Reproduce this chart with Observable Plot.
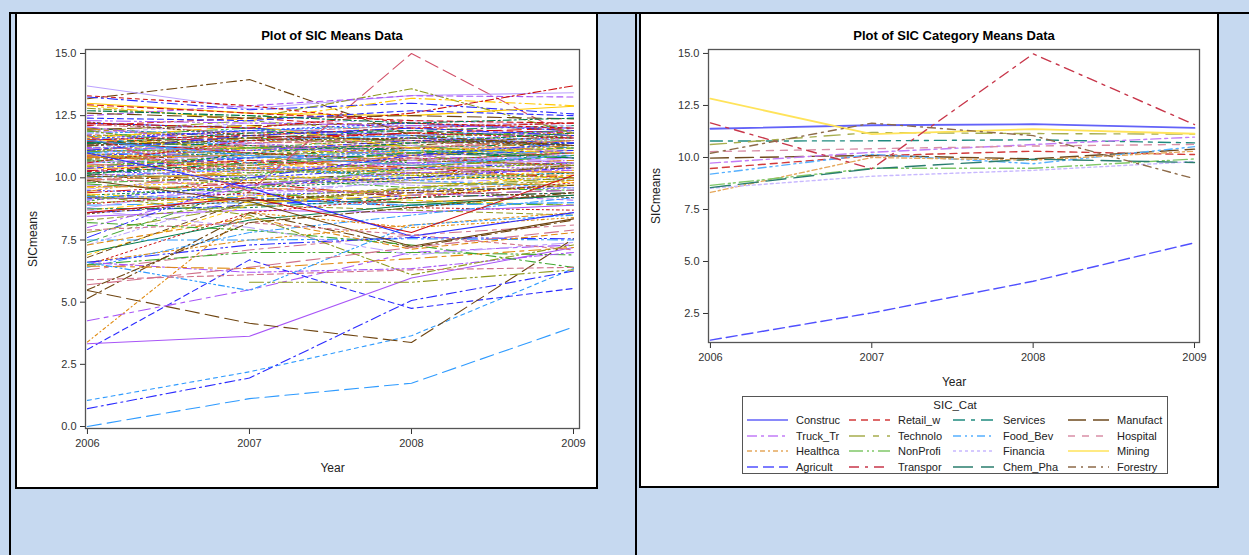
<!DOCTYPE html>
<html><head><meta charset="utf-8">
<script src="https://cdn.jsdelivr.net/npm/d3@7"></script>
<script src="https://cdn.jsdelivr.net/npm/@observablehq/plot@0.6"></script>
<style>
body{margin:0;width:1249px;height:555px;background:#c6d9f0;position:relative;overflow:hidden;font-family:"Liberation Sans",Arial,sans-serif;}
.abs{position:absolute;}
.panel{background:#fff;border:2px solid #000;box-sizing:border-box;}
.title{font-weight:bold;font-size:13px;text-align:center;color:#000;line-height:15px;width:400px;}
#legend{background:#fff;border:1px solid #555;box-sizing:border-box;font-size:11px;color:#222;}
#legend span{position:absolute;white-space:nowrap;line-height:14px;}
</style></head><body>
<div class="abs" style="left:9px;top:12px;width:1240px;height:2px;background:#000"></div>
<div class="abs" style="left:9px;top:12px;width:2px;height:543px;background:#000"></div>
<div class="abs" style="left:635px;top:12px;width:2px;height:543px;background:#000"></div>
<div class="abs panel" style="left:15px;top:12px;width:583px;height:477px"></div>
<div class="abs panel" style="left:639px;top:12px;width:580px;height:476px"></div>
<div class="abs title" style="left:132px;top:28px">Plot of SIC Means Data</div>
<div class="abs title" style="left:754px;top:28px">Plot of SIC Category Means Data</div>
<div class="abs" id="leftChart" style="left:16px;top:40px"></div>
<div class="abs" id="rightChart" style="left:640px;top:40px"></div>
<div class="abs" id="legend" style="left:742px;top:396px;width:426px;height:78px"></div>
<script>
const years = [2006, 2007, 2008, 2009];
const leftYTicks = [0, 2.5, 5, 7.5, 10, 12.5, 15];
const rightYTicks = [2.5, 5, 7.5, 10, 12.5, 15];

// Category means (right chart)
const categories = ["Construc","Retail_w","Services","Manufact","Truck_Tr","Technolo","Food_Bev","Hospital","Healthca","NonProfi","Financia","Mining","Agricult","Transpor","Chem_Pha","Forestry"];
const catValues = [
  [11.38, 11.55, 11.6, 11.42],
  [9.47, 10.08, 10.3, 10.14],
  [10.79, 10.8, 10.85, 10.7],
  [9.97, 10.1, 9.93, 10.4],
  [9.73, 10.25, 10.62, 10.98],
  [10.62, 11.2, 11.15, 11.12],
  [9.2, 10.15, 9.7, 10.52],
  [10.28, 10.42, 10.55, 10.63],
  [8.32, 10.0, 9.87, 10.3],
  [8.66, 9.48, 9.48, 9.93],
  [8.52, 9.1, 9.38, 9.8],
  [12.83, 11.12, 11.36, 11.14],
  [1.22, 2.53, 4.05, 5.9],
  [11.66, 9.46, 14.98, 11.58],
  [8.55, 9.46, 9.92, 9.76],
  [10.2, 11.65, 11.05, 8.98]
];
const catColors = ["#6262f8","#d23a3a","#1f8a7f","#6e4a1e","#c27cf7","#a7ad4e","#55b0ff","#d98fa7","#e5a85c","#80c868","#c8b8ff","#ffe35a","#5050ff","#c8364a","#2a7e6e","#8d6a48"];
const catDashes = [null,"7,5","12,6,4,6","18,7","10,4,3,4","16,8,6,8","8,4,2,4,2,4","7,7","5,3,2,3","14,4,2,3,2,4","3,3",null,"11,5","10,6,3,6","20,8","8,5,2,5"];

// Individual SIC means (left chart)
const sicBand = [
  [12.2, 12.0, 11.7, 11.9],[12.1, 12.4, 12.0, 11.8],[12.0, 11.6, 11.9, 12.1],[11.95, 12.1, 12.2, 11.9],
  [11.9, 11.7, 11.5, 11.6],[11.85, 12.3, 11.8, 11.7],[11.8, 11.9, 12.1, 12.0],[11.75, 11.4, 11.6, 11.3],
  [11.7, 11.8, 11.7, 11.8],[11.65, 12.0, 11.4, 11.5],[11.6, 11.5, 11.9, 11.7],[11.55, 11.2, 11.3, 11.1],
  [11.5, 11.9, 11.6, 11.4],[11.45, 11.6, 11.8, 12.0],[11.4, 11.1, 11.2, 11.4],[11.35, 11.7, 11.5, 11.2],
  [11.3, 11.4, 11.0, 10.9],[11.25, 10.9, 11.4, 11.6],[11.2, 11.5, 11.7, 11.5],[11.15, 11.3, 10.9, 11.0],
  [11.1, 10.8, 11.1, 11.3],[11.05, 11.2, 11.3, 10.8],[11.0, 11.4, 10.8, 10.6],[10.95, 10.7, 10.9, 11.2],
  [10.9, 11.1, 11.5, 11.4],[10.85, 10.6, 10.7, 10.5],[10.8, 11.0, 10.6, 10.9],[10.75, 10.9, 11.2, 11.0],
  [10.7, 10.4, 10.5, 10.7],[10.65, 11.2, 10.9, 10.4],[10.6, 10.8, 11.0, 11.3],[10.55, 10.3, 10.4, 10.2],
  [10.5, 10.7, 10.3, 10.6],[10.45, 10.9, 11.1, 10.8],[10.4, 10.2, 10.6, 10.9],[10.35, 10.6, 10.2, 10.0],
  [10.3, 10.0, 10.4, 10.6],[10.25, 10.5, 10.8, 10.5],[10.2, 10.4, 10.1, 9.9],[10.15, 9.9, 10.2, 10.4],
  [10.1, 10.3, 10.6, 10.3],[10.05, 10.1, 9.8, 9.7],[10.0, 10.4, 10.0, 10.2],[9.95, 9.7, 9.9, 10.1],
  [9.9, 10.2, 10.5, 10.7],[9.8, 10.0, 9.6, 9.5],[9.7, 9.5, 9.8, 10.0],[9.6, 9.9, 10.1, 9.8],
  [9.5, 9.3, 9.5, 9.6],[9.4, 9.8, 9.2, 9.4],[9.3, 9.6, 9.9, 10.2],[9.2, 9.1, 9.0, 9.3],
  [9.1, 9.5, 9.4, 9.1],[9.0, 9.2, 9.6, 9.9],[8.9, 9.0, 8.9, 9.0],
  [12.15, 11.8, 12.1, 12.2],[11.98, 11.5, 11.2, 11.5],[11.88, 11.2, 11.6, 11.9],[11.78, 12.2, 12.3, 12.1],
  [11.68, 11.1, 11.0, 11.2],[11.58, 11.9, 12.2, 11.9],[11.48, 11.0, 10.7, 11.0],[11.38, 11.8, 11.9, 11.6],
  [11.28, 11.6, 11.3, 11.7],[11.18, 10.7, 10.6, 10.8],[11.08, 11.6, 11.4, 11.8],[10.98, 11.5, 11.7, 11.2],
  [10.88, 10.5, 10.8, 10.4],[10.78, 11.3, 11.0, 11.5],[10.68, 10.2, 10.3, 10.6],[10.58, 11.0, 11.3, 11.1],
  [10.48, 10.1, 9.9, 10.3],[10.38, 10.8, 10.9, 11.1],[10.28, 10.7, 10.4, 10.0],[10.18, 10.6, 11.0, 10.8],
  [10.08, 9.8, 10.0, 10.5],[12.05, 11.3, 10.9, 10.6],[11.92, 10.9, 10.2, 10.0],[11.72, 10.6, 9.9, 9.6],
  [9.85, 10.6, 11.2, 11.6],[9.45, 10.4, 10.9, 11.3],[9.05, 10.1, 10.7, 11.0],[8.8, 9.7, 10.3, 10.8],
  [8.7, 9.3, 9.1, 8.9],[8.6, 8.9, 9.3, 9.5],[11.52, 11.7, 12.0, 12.2],[11.42, 11.3, 11.1, 10.8],
  [11.32, 11.5, 11.6, 11.3],[11.22, 11.1, 11.4, 11.9],[11.12, 11.0, 10.7, 10.5],[11.02, 10.8, 11.1, 11.0],
  [10.92, 11.3, 11.2, 11.5],[10.82, 10.9, 10.5, 10.2],[10.72, 10.5, 11.0, 11.2],[10.62, 10.9, 10.7, 10.9],
  [11.6, 12.1, 11.2, 11.0],[11.1, 11.7, 12.0, 11.7],[10.6, 11.5, 11.8, 11.6],[10.1, 11.0, 11.4, 11.8],
  [12.25, 11.7, 11.5, 11.3],[12.3, 12.2, 12.1, 12.0],[11.0, 10.3, 10.1, 10.5],[11.5, 10.9, 10.5, 10.9],
  [10.4, 11.4, 11.5, 11.0],[10.9, 10.4, 10.2, 10.1],
  [9.75, 9.4, 9.0, 8.9],[9.55, 10.1, 9.7, 9.6],[9.35, 9.0, 9.3, 9.7],[9.15, 9.7, 10.0, 10.4],
  [8.95, 9.4, 8.8, 8.7],[8.75, 8.8, 9.2, 9.4],[8.55, 9.1, 9.5, 9.2],[8.45, 8.7, 8.6, 8.9],
  [8.3, 8.9, 8.7, 8.5],[9.25, 9.2, 8.9, 9.0],[10.0, 9.6, 9.3, 9.5],[9.65, 9.6, 9.4, 9.9],
  [7.4, 9.6, 10.4, 10.9],[7.3, 9.3, 9.9, 10.6],[6.9, 8.9, 9.6, 10.1],[7.6, 10.0, 10.9, 11.4],
  [6.5, 8.6, 9.2, 9.8],[7.0, 8.3, 8.9, 9.3],[6.8, 9.1, 9.4, 9.7],[8.0, 9.7, 10.2, 10.3],
  [7.8, 8.9, 9.6, 10.0],[6.4, 7.8, 8.5, 9.2],[6.3, 7.1, 7.7, 8.1],[6.6, 7.5, 8.1, 8.6]
];
const sicLow = [
  [0.0, 1.12, 1.74, 4.0],[1.05, 2.2, 3.65, 6.35],[0.72, 1.95, 5.07, 6.25],[3.1, 6.7, 4.75, 5.55],
  [3.33, 3.63, 5.97, 7.2],[5.47, 4.15, 3.38, 7.55],[4.25, 5.5, 7.0, 7.3],[3.4, 8.6, 8.0, 8.4],
  [5.15, 8.6, 7.2, 8.3],[7.5, 7.5, 7.55, 7.5],[6.6, 7.3, 7.6, 7.55],[7.3, 8.4, 7.13, 7.8],
  [6.5, 7.0, 7.0, 6.9],[6.6, 6.2, 6.35, 7.0],[6.45, 6.35, 6.75, 7.2],[8.2, 7.9, 7.3, 6.4],
  [9.3, 8.5, 6.1, 7.3],[8.7, 8.0, 6.9, 7.4],[6.6, 5.47, 8.1, 8.5],[null, 5.8, 5.8, 6.3],
  [8.6, 9.2, 7.8, 10.1],[9.9, 9.05, 7.25, 8.35],[11.0, 9.6, 7.65, 8.6],[7.9, 8.2, 7.7, 7.1],
  [5.9, 6.1, 6.3, 6.4],[5.7, 6.4, 7.2, 7.9],[5.5, 8.2, 8.8, 9.4]
];
const sicHigh = [
  [11.7, 9.45, 15.0, 11.6],[13.18, 13.95, 11.7, 11.3],[13.69, 12.78, 13.31, 13.42],[13.25, 12.74, 13.0, 12.57],
  [12.8, 12.4, 13.58, 11.8],[12.9, 12.3, 13.2, 12.9],[13.0, 12.6, 12.5, 12.88],[12.5, 12.9, 13.3, 13.25],
  [12.2, 12.0, 12.6, 13.7],[12.94, 12.6, 12.3, 12.2],[12.6, 12.4, 12.5, 12.37],[12.4, 12.3, 12.7, 12.5],
  [13.3, 12.9, 12.2, 12.0],[12.7, 12.5, 12.2, 12.4]
];
// style indices for the outlying SIC lines
const lowColorIdx = [6,6,0,0,4,3,4,8,3,6,0,8,9,4,8,9,5,10,6,5,1,3,0,7,7,7,3];
const lowDashIdx  = [3,7,2,1,0,3,5,8,2,2,9,1,9,4,5,2,4,5,6,9,0,0,0,7,1,3,4];
const highColorIdx = [12,3,10,0,5,11,11,4,1,1,3,0,1,2];
const highDashIdx  = [3,2,0,2,4,2,0,1,4,1,3,1,7,4];
const leftColors = ["#2b2bff","#cc1010","#007a4a","#6e4410","#a855f7","#8f9a1e","#2f9bff","#d0708a","#e08a10","#44a832","#bca2ff","#ffc800","#d25068"];
const leftDashes = [null,"6,4","10,4,2,4","14,6","8,3,2,3","12,5,4,5","6,3,2,3,2,3","4,4","3,3,1,3","14,4,2,3,2,4","2,3"];

function rows(vals){ return years.map((year, j) => ({year, value: vals[j] == null ? NaN : vals[j]})); }
const font = "Liberation Sans, Arial, sans-serif";
const xLabel = () => Plot.text(["Year"], {frameAnchor: "bottom", dy: 40, lineAnchor: "middle", textAnchor: "middle", fontSize: 12, fill: "#222"});
const yLabel = () => Plot.text(["SICmeans"], {frameAnchor: "left", dx: -52, rotate: -90, lineAnchor: "middle", textAnchor: "middle", fontSize: 12, fill: "#222"});

// Left chart
const leftMarks = [];
sicBand.forEach((v, i) => leftMarks.push(Plot.line(rows(v), {x: "year", y: "value", stroke: leftColors[i % 12], strokeDasharray: leftDashes[(i + Math.floor(i / 12)) % 11] || undefined, strokeWidth: 1})));
sicLow.forEach((v, i) => leftMarks.push(Plot.line(rows(v), {x: "year", y: "value", stroke: leftColors[lowColorIdx[i]], strokeDasharray: leftDashes[lowDashIdx[i]] || undefined, strokeWidth: 1.1})));
sicHigh.forEach((v, i) => leftMarks.push(Plot.line(rows(v), {x: "year", y: "value", stroke: leftColors[highColorIdx[i]], strokeDasharray: leftDashes[highDashIdx[i]] || undefined, strokeWidth: 1.1})));

const left = Plot.plot({
  width: 578, height: 440, marginTop: 9, marginRight: 15, marginBottom: 52, marginLeft: 69,
  style: {fontFamily: font, fontSize: "11px", color: "#333", background: "transparent"},
  x: {domain: [2005.988, 2009.037], ticks: years, tickFormat: "d", tickSize: 6, tickPadding: 5, label: null},
  y: {domain: [-0.08, 15.16], ticks: leftYTicks, tickFormat: ".1f", tickSize: 5, tickPadding: 4, label: null},
  marks: [
    ...leftMarks,
    Plot.frame({stroke: "#555", strokeWidth: 1.3}),
    xLabel(),
    yLabel()
  ]
});
document.getElementById("leftChart").appendChild(left);

// Right chart
const rightMarks = categories.map((c, i) => Plot.line(rows(catValues[i]), {x: "year", y: "value", stroke: catColors[i], strokeDasharray: catDashes[i] || undefined, strokeWidth: catDashes[i] ? 1.4 : 1.8}));
const right = Plot.plot({
  width: 576, height: 354, marginTop: 9, marginRight: 17, marginBottom: 52, marginLeft: 68,
  style: {fontFamily: font, fontSize: "11px", color: "#333", background: "transparent"},
  x: {domain: [2005.988, 2009.031], ticks: years, tickFormat: "d", tickSize: 6, tickPadding: 5, label: null},
  y: {domain: [1.106, 15.19], ticks: rightYTicks, tickFormat: ".1f", tickSize: 5, tickPadding: 4, label: null},
  marks: [
    ...rightMarks,
    Plot.frame({stroke: "#555", strokeWidth: 1.3}),
    xLabel(),
    yLabel()
  ]
});
document.getElementById("rightChart").appendChild(right);

// Legend
const leg = document.getElementById("legend");
const t = document.createElement("span");
t.textContent = "SIC_Cat"; t.style.left = "0px"; t.style.width = "424px"; t.style.textAlign = "center"; t.style.top = "1px"; t.style.fontSize = "11.5px";
leg.appendChild(t);
const colX = [4, 106, 210, 325], labX = [53, 155, 260, 374], rowY = [23, 38.5, 54, 70];
categories.forEach((c, i) => {
  const r = Math.floor(i / 4), col = i % 4;
  const ns = "http://www.w3.org/2000/svg";
  const s = document.createElementNS(ns, "svg");
  s.setAttribute("width", 41); s.setAttribute("height", 4);
  s.style.position = "absolute"; s.style.left = colX[col] + "px"; s.style.top = (rowY[r] - 2) + "px";
  const l = document.createElementNS(ns, "line");
  l.setAttribute("x1", 0); l.setAttribute("x2", 41); l.setAttribute("y1", 2); l.setAttribute("y2", 2);
  l.setAttribute("stroke", catColors[i]); l.setAttribute("stroke-width", 1.6);
  if (catDashes[i]) l.setAttribute("stroke-dasharray", catDashes[i]);
  s.appendChild(l); leg.appendChild(s);
  const sp = document.createElement("span");
  sp.textContent = c; sp.style.left = labX[col] + "px"; sp.style.top = (rowY[r] - 7) + "px";
  leg.appendChild(sp);
});
</script>
</body></html>
